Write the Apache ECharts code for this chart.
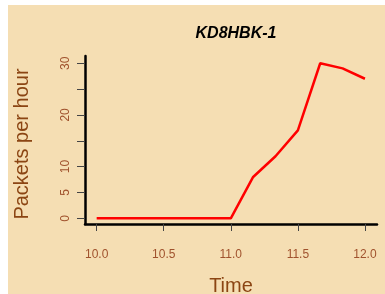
<!DOCTYPE html>
<html>
<head>
<meta charset="utf-8">
<script src="https://cdn.jsdelivr.net/npm/echarts@6/dist/echarts.min.js"></script>
<style>
  html, body { margin: 0; padding: 0; background: #ffffff; }
  #chart { position: absolute; left: 8px; top: 5px; width: 377px; height: 289px; }
</style>
</head>
<body>
<div id="chart"></div>
<script>
// time in hours, 10-minute steps
var times = [10.0, 10.1667, 10.3333, 10.5, 10.6667, 10.8333, 11.0, 11.1667, 11.3333, 11.5, 11.6667, 11.8333, 12.0];
var packets = [0, 0, 0, 0, 0, 0, 0, 8, 12, 17, 30, 29, 27];
var xTicks = [10, 10.5, 11, 11.5, 12];
var yTicks = [0, 5, 10, 15, 20, 25, 30];
var yLabels = [0, 5, 10, 20, 30];

var points = times.map(function (t, i) { return [t, packets[i]]; });

var chart = echarts.init(document.getElementById('chart'));
chart.setOption({
  backgroundColor: '#F5DEB3',
  animation: false,
  textStyle: { fontFamily: 'Liberation Sans' },
  title: {
    text: 'KD8HBK-1',
    left: 223,
    top: 16,
    textAlign: 'center',
    textStyle: { fontSize: 16, fontWeight: 'bold', fontStyle: 'italic', color: '#000', fontFamily: 'Liberation Sans' }
  },
  grid: { left: 77, right: 8, top: 51, bottom: 70, outerBoundsMode: 'none', containLabel: false },
  xAxis: {
    type: 'value',
    min: 9.913,
    max: 12.09,
    name: 'Time',
    nameLocation: 'middle',
    nameGap: 52,
    nameTextStyle: { fontSize: 20, color: '#8B4513' },
    splitLine: { show: false },
    axisLine: { onZero: false, lineStyle: { color: '#000', width: 2.5 } },
    axisTick: { customValues: xTicks, length: 7, lineStyle: { color: '#444', width: 1 } },
    axisLabel: {
      customValues: xTicks, margin: 25, fontSize: 12, color: '#A0522D',
      formatter: function (v) { return v.toFixed(1); }
    }
  },
  yAxis: {
    type: 'value',
    min: -1.1,
    max: 31.4,
    name: 'Packets per hour',
    nameLocation: 'middle',
    nameGap: 53,
    nameTextStyle: { fontSize: 20, color: '#8B4513', padding: [0, 8, 0, 0] },
    splitLine: { show: false },
    axisLine: { show: true, onZero: false, lineStyle: { color: '#000', width: 2.5 } },
    axisTick: { show: true, customValues: yTicks, length: 8, lineStyle: { color: '#444', width: 1 } },
    axisLabel: { customValues: yLabels, rotate: 90, margin: 13, fontSize: 12, color: '#A0522D' }
  },
  series: [{
    type: 'line',
    data: points,
    symbol: 'none',
    lineStyle: { color: '#FF0000', width: 2.5 }
  }]
});
</script>
</body>
</html>
